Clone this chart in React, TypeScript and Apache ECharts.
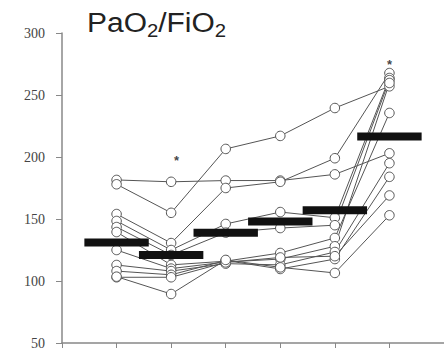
import React, { useEffect, useRef } from "react";
import * as echarts from "echarts";

const timepoints = [1, 2, 3, 4, 5, 6];
const yTicks = [50, 100, 150, 200, 250, 300];

const subjects: number[][] = [
  [181.5, 180, 181, 181, 186, 203],
  [178, 155, 206.5, 217, 239.5, 257],
  [154, 130.6, 175, 180, 199, 267.7],
  [148.4, 125, 146, 155.6, 151, 263.7],
  [143.5, 121, 139, 142.7, 145, 262],
  [139.5, 113, 116, 122.6, 134.7, 235.5],
  [125, 110, 115.3, 117.7, 128, 259.7],
  [112.9, 108, 114, 113, 123.4, 195],
  [108, 105, 116.5, 109.7, 117.7, 184],
  [103, 103, 115, 119, 120, 169],
  [103.5, 89.5, 117, 111, 106.5, 153],
];

const barValues = [131, 121, 139, 148, 157, 216.5];

const asteriskX = [2.1, 6];
const asteriskY = [200, 277];

export default function App() {
  const ref = useRef<HTMLDivElement>(null);
  useEffect(() => {
    document.body.style.margin = "0";
    const chart = echarts.init(ref.current!, undefined, { renderer: "svg" });
    const lineSeries = subjects.map((s, k) => ({
      type: "line",
      name: "s" + k,
      data: timepoints.map((t, i) => [t, s[i]]),
      symbol: "circle",
      symbolSize: 9.5,
      showAllSymbol: true,
      lineStyle: { color: "#555", width: 1 },
      itemStyle: { color: "#fff", borderColor: "#555", borderWidth: 1 },
      z: 2,
      silent: true,
    }));
    chart.setOption({
      animation: false,
      grid: { left: 62, right: -3, top: 33, bottom: 10 },
      xAxis: {
        type: "value",
        min: 0,
        max: 7,
        interval: 1,
        axisLine: { show: true, lineStyle: { color: "#888", width: 1.5 } },
        axisTick: { show: true, length: 5, lineStyle: { color: "#888", width: 1 } },
        axisLabel: { show: false },
        splitLine: { show: false },
      },
      yAxis: {
        type: "value",
        min: yTicks[0],
        max: yTicks[yTicks.length - 1],
        interval: 50,
        axisLine: { show: true, lineStyle: { color: "#888", width: 1.5 } },
        axisTick: { show: true, length: 6, lineStyle: { color: "#888", width: 1 } },
        axisLabel: {
          margin: 17,
          fontFamily: "Liberation Serif",
          fontSize: 14,
          color: "#444",
        },
        splitLine: { show: false },
      },
      graphic: [
        {
          type: "text",
          left: 87,
          top: 8,
          scaleX: 1.07,
          style: {
            text: "{a|PaO}{s|2}{a|/FiO}{s|2}",
            rich: {
              a: {
                fontFamily: "Liberation Sans",
                fontSize: 28,
                lineHeight: 36,
                fill: "#222",
                verticalAlign: "middle",
              },
              s: {
                fontFamily: "Liberation Sans",
                fontSize: 19,
                lineHeight: 36,
                fill: "#222",
                verticalAlign: "bottom",
              },
            },
          },
        },
      ],
      series: [
        ...lineSeries,
        {
          type: "custom",
          z: 5,
          silent: true,
          data: timepoints.map((t, i) => [t, barValues[i]]),
          renderItem: (params: any, api: any) => {
            const x = api.value(0);
            const y = api.value(1);
            const p1 = api.coord([x - 0.59, y]);
            const p2 = api.coord([x + 0.59, y]);
            return {
              type: "rect",
              shape: { x: p1[0], y: p1[1] - 4, width: p2[0] - p1[0], height: 8 },
              style: { fill: "#111" },
            };
          },
        },
        {
          type: "scatter",
          z: 6,
          silent: true,
          symbolSize: 1,
          itemStyle: { color: "transparent" },
          data: asteriskX.map((x, i) => [x, asteriskY[i]]),
          label: {
            show: true,
            formatter: "*",
            position: "inside",
            fontFamily: "Liberation Sans",
            fontSize: 13,
            fontWeight: "bold",
            color: "#111",
            offset: [0, 3],
          },
        },
      ],
    });
    return () => chart.dispose();
  }, []);
  return <div ref={ref} style={{ width: 444, height: 353 }} />;
}
